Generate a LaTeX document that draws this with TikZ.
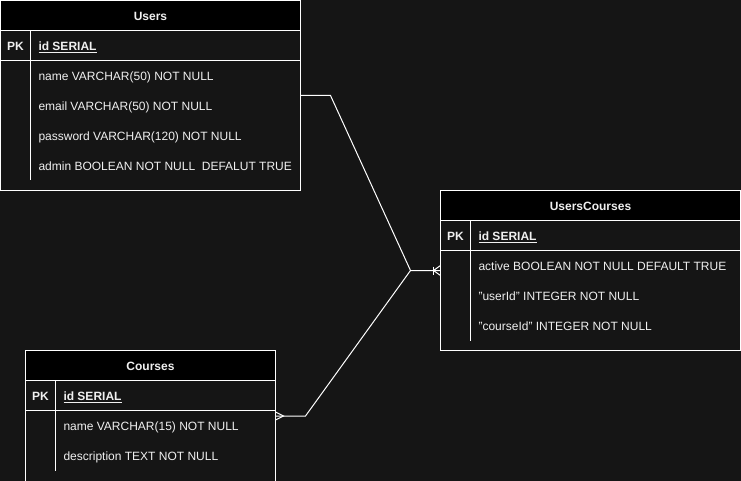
\documentclass[tikz,border=0pt]{standalone}
\usepackage{fontspec}
\setmainfont{Liberation Sans}
\usetikzlibrary{positioning}
\usetikzlibrary{calc}
\definecolor{bgc}{HTML}{151515}
\definecolor{txt}{HTML}{F0F0F0}

\begin{document}
\begin{tikzpicture}[x=1pt, y=-1pt, line width=1pt,
    every node/.style={font=\fontsize{12}{14}\selectfont, text=txt, inner sep=0pt, outer sep=0pt, text height=10, text depth=0},
    tbl/.style={draw=white, fill=bgc, anchor=north west},
    head/.style={draw=white, fill=black, anchor=north west, minimum height=30, font=\fontsize{12}{14}\selectfont\bfseries},
    key/.style={font=\fontsize{12}{14}\selectfont\bfseries},
    rowtxt/.style={anchor=west},
    rel/.style={draw=white, line width=1pt}]

    \useasboundingbox (0,0) rectangle (741,481);
    \fill[bgc] (0,0) rectangle (741,481);
    \clip (0,0) rectangle (741,481);

%Users
	\def\dx{0.5};
	\def\dy{0.5};
    \node[tbl, minimum width=300, minimum height=190] (users) at (\dx,\dy) {};
    \node[head, minimum width=300] (usersh) at (users.north west) {Users};
    \draw[white] (\dx,\dy+60) -- ++(300,0);
    \draw[white] (\dx+30,\dy+30) -- (\dx+30,\dy+180);
    \node[key] (userspk) at (\dx+15,\dy+45) {PK};
    \node[key, rowtxt] (usersid) at (\dx+38,\dy+45) {\underline{id SERIAL}};
    \foreach \i/\txt/\name in { 0/name VARCHAR(50) NOT NULL/uname, 1/email VARCHAR(50) NOT NULL/uemail, 2/password VARCHAR(120) NOT NULL/upass, 3/admin BOOLEAN NOT NULL\ \ DEFALUT TRUE/uadmin} {
         \node[rowtxt] (\name) at (\dx+38, \dy+75+30*\i) {\txt};
    }

%UsersCourses
	\def\dx{440.5};
	\def\dy{190.5};
    \node[tbl, minimum width=300, minimum height=160] (uc) at (\dx,\dy) {};
    \node[head, minimum width=300] (uch) at (uc.north west) {UsersCourses};
    \draw[white] (\dx,\dy+60) -- ++(300,0);
    \draw[white] (\dx+30,\dy+30) -- (\dx+30,\dy+150);
    \node[key] (ucpk) at (\dx+15,\dy+45) {PK};
    \node[key, rowtxt] (ucid) at (\dx+38,\dy+45) {\underline{id SERIAL}};
    \foreach \i/\txt/\name in { 0/active BOOLEAN NOT NULL DEFAULT TRUE/ucactive, 1/"userId" INTEGER NOT NULL/ucuser, 2/"courseId" INTEGER NOT NULL/uccourse} {
         \node[rowtxt] (\name) at (\dx+38, \dy+75+30*\i) {\txt};
    }

%Courses
	\def\dx{25.5};
	\def\dy{350.5};
    \node[tbl, minimum width=250, minimum height=131] (courses) at (\dx,\dy) {};
    \node[head, minimum width=250] (coursesh) at (courses.north west) {Courses};
    \draw[white] (\dx,\dy+60) -- ++(250,0);
    \draw[white] (\dx+30,\dy+30) -- (\dx+30,\dy+120);
    \node[key] (coursespk) at (\dx+15,\dy+45) {PK};
    \node[key, rowtxt] (coursesid) at (\dx+38,\dy+45) {\underline{id SERIAL}};
    \foreach \i/\txt/\name in { 0/name VARCHAR(15) NOT NULL/cname, 1/description TEXT NOT NULL/cdesc} {
         \node[rowtxt] (\name) at (\dx+38, \dy+75+30*\i) {\txt};
    }

%relations
    \coordinate (ujoint) at ($(users.east)+(30,0)$);
    \coordinate (mid) at ($(uc.west)+(-30,0)$);
    \coordinate (cjoint) at ($(courses.east)+(30,0)$);
    \draw[rel] (users.east) -- (ujoint) -- (mid) -- (uc.west);
    \draw[rel] (courses.east) -- (cjoint) -- (mid);

    % one and many at UsersCourses
    \draw[rel] ($(uc.west)+(-7,-4)$) -- ++(0,8);
    \draw[rel] ($(uc.west)+(0,-5)$) -- ($(uc.west)+(-7,0)$) -- ($(uc.west)+(0,5)$);

    % many at Courses
    \draw[rel] ($(courses.east)+(0,-4)$) -- ($(courses.east)+(8,0)$) -- ($(courses.east)+(0,4)$);

\end{tikzpicture}
\end{document}
